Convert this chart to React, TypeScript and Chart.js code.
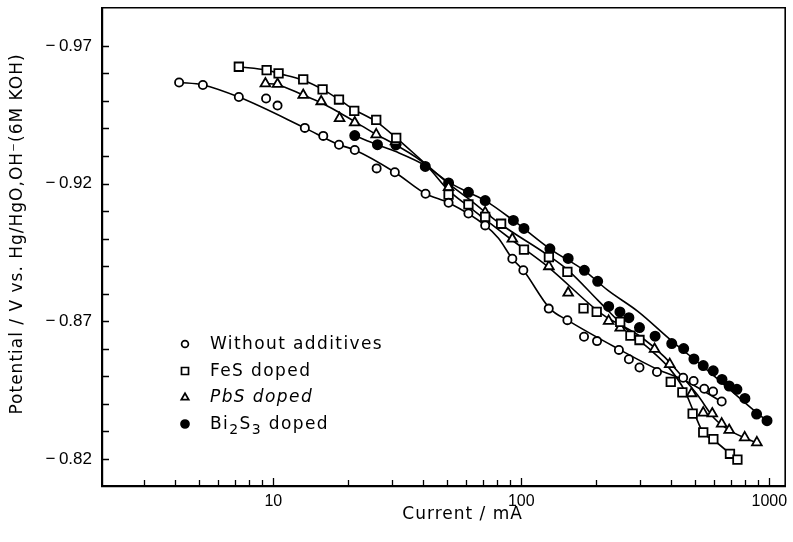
import React, { useEffect, useRef } from "react";
import { Chart, registerables } from "chart.js";

Chart.register(...registerables);

// ---- measured points (Current / mA, Potential / V) ----
const noAddX = [4.17, 5.2, 7.26, 9.35, 10.4, 13.4, 15.9, 18.4, 21.3, 26.1, 30.9, 41.1, 50.9, 61.2, 71.5, 92.0, 101.9, 129, 153.4, 179, 202, 247.5, 271.5, 299.6, 352.4, 449.4, 495.2, 546.6, 593.2, 642.7];
const noAddY = [-0.9567, -0.9558, -0.9514, -0.9509, -0.9483, -0.9402, -0.9373, -0.9341, -0.9322, -0.9255, -0.9241, -0.9163, -0.913, -0.9091, -0.9048, -0.8927, -0.8885, -0.8746, -0.8704, -0.8644, -0.8628, -0.8596, -0.8562, -0.8532, -0.8516, -0.8495, -0.8483, -0.8455, -0.8445, -0.8409];

const fesX = [7.26, 9.4, 10.5, 13.2, 15.8, 18.4, 21.2, 26.0, 31.3, 50.9, 61.2, 71.5, 82.9, 102.5, 129.2, 153.4, 178.2, 201.4, 250.5, 275.4, 299.6, 400.5, 446.1, 490.7, 541.5, 594.8, 694, 743.7];
const fesY = [-0.9624, -0.9612, -0.96, -0.9578, -0.9542, -0.9505, -0.9464, -0.9431, -0.9366, -0.916, -0.9124, -0.9079, -0.9054, -0.896, -0.8933, -0.8879, -0.8747, -0.8734, -0.8698, -0.8648, -0.8632, -0.848, -0.8442, -0.8365, -0.8297, -0.8272, -0.8219, -0.8198];

const pbsX = [9.29, 10.4, 13.2, 15.6, 18.5, 21.3, 26.0, 31.1, 50.9, 71.5, 92.0, 129.2, 154.5, 225, 250.5, 344.6, 396.8, 486.1, 541.5, 588.8, 642.7, 688.9, 795.8, 891];
const pbsY = [-0.9563, -0.9561, -0.9521, -0.9498, -0.9437, -0.9421, -0.9378, -0.9352, -0.9186, -0.9095, -0.8999, -0.8899, -0.8803, -0.8701, -0.8676, -0.8599, -0.8544, -0.8438, -0.8368, -0.8365, -0.8328, -0.8305, -0.8278, -0.826];

const biX = [21.3, 26.3, 31.2, 41.0, 50.9, 61.2, 71.5, 92.9, 102.5, 130.4, 154.5, 179.6, 203.2, 225, 249.8, 271.5, 299.6, 346.3, 404.2, 451.5, 496.6, 541.5, 594.2, 644.5, 688.9, 740.3, 797.3, 888.5, 979];
const biY = [-0.9374, -0.9341, -0.934, -0.9262, -0.9202, -0.9168, -0.9138, -0.9066, -0.9037, -0.8963, -0.8928, -0.8885, -0.8845, -0.8754, -0.8734, -0.8713, -0.8677, -0.8646, -0.8619, -0.8601, -0.8563, -0.8539, -0.852, -0.8489, -0.8465, -0.8453, -0.842, -0.8363, -0.8339];

// ---- fitted curves drawn through the points ----
const noAddFitX = [4.17, 5.2, 7.26, 13.4, 18.4, 21.3, 30.9, 41.1, 50.9, 71.5, 80.9, 92.0, 101.9, 130.4, 153.4, 249.1, 352.7, 454.4, 641.6];
const noAddFitY = [-0.9567, -0.9558, -0.9514, -0.9402, -0.9341, -0.9322, -0.9241, -0.9163, -0.913, -0.9048, -0.9001, -0.8927, -0.8885, -0.8746, -0.8704, -0.8597, -0.8526, -0.8486, -0.8408];

const fesFitX = [7.26, 9.4, 10.5, 13.2, 15.8, 18.4, 21.2, 26.0, 31.3, 41.1, 50.9, 61.2, 82.1, 128.4, 154.5, 203.8, 277.3, 338.9, 395.7, 454.4, 498.4, 541.5, 595.9, 743.7];
const fesFitY = [-0.9624, -0.9612, -0.96, -0.9575, -0.9542, -0.9505, -0.9468, -0.9425, -0.9366, -0.9272, -0.92, -0.9145, -0.9054, -0.8939, -0.8885, -0.8776, -0.8655, -0.8589, -0.8529, -0.845, -0.8366, -0.8295, -0.8269, -0.8196];

const pbsFitX = [9.29, 10.4, 13.2, 15.6, 18.5, 21.3, 26.0, 31.1, 41.1, 50.9, 61.2, 91.4, 128.4, 210.1, 304.1, 377.7, 440.4, 513.8, 599.7, 688.9, 895];
const pbsFitY = [-0.9563, -0.9559, -0.9521, -0.9493, -0.9457, -0.9425, -0.9378, -0.9341, -0.9269, -0.9175, -0.9117, -0.8996, -0.8897, -0.8728, -0.8643, -0.8571, -0.8504, -0.8432, -0.8348, -0.8305, -0.8257];

const biFitX = [21.3, 26.3, 31.2, 41.1, 50.9, 61.2, 71.5, 92.9, 130.4, 179, 223.6, 295, 401.6, 563.6, 895, 981.7];
const biFitY = [-0.9374, -0.9341, -0.9316, -0.9265, -0.9205, -0.9168, -0.9138, -0.9066, -0.8963, -0.8885, -0.8812, -0.8736, -0.8631, -0.8522, -0.8366, -0.8338];

// ---- axes ----
const xLabelTicks = [10, 100, 1000];
const xMinorTicks = [3, 4, 5, 6, 7, 8, 9, 20, 30, 40, 50, 60, 70, 80, 90, 200, 300, 400, 500, 600, 700, 800, 900];
const yLabelTicks = [-0.97, -0.92, -0.87, -0.82];
const yMinorTicks = [-0.96, -0.95, -0.94, -0.93, -0.91, -0.9, -0.89, -0.88, -0.86, -0.85, -0.84, -0.83];
const xMin = 2.038;
const xMax = 1159;
const yMin = -0.9838;
const yMax = -0.8102;

const seriesNames = ["Without additives", "FeS doped", "PbS doped", "Bi2S3 doped"];
const xTitle = "Current / mA";
const yTitle = "Potential / V vs. Hg/HgO,OH\u207B(6M KOH)";

const toPts = (xs: number[], ys: number[]) => xs.map((x, i) => ({ x, y: ys[i] }));

const TEXT_FONT = '"DejaVu Sans", sans-serif';
const TICK_FONT = '"Liberation Sans", Arial, sans-serif';

function drawMarker(ctx: CanvasRenderingContext2D, kind: string, x: number, y: number, s: number) {
  ctx.save();
  ctx.lineWidth = 1.7;
  ctx.strokeStyle = "#000";
  ctx.fillStyle = kind === "filled" ? "#000" : "#fff";
  ctx.beginPath();
  if (kind === "circle" || kind === "filled") {
    ctx.arc(x, y, s, 0, Math.PI * 2);
  } else if (kind === "rect") {
    ctx.rect(x - s, y - s, 2 * s, 2 * s);
  } else {
    ctx.moveTo(x, y - s * 1.1);
    ctx.lineTo(x + s * 1.1, y + s * 0.8);
    ctx.lineTo(x - s * 1.1, y + s * 0.8);
    ctx.closePath();
  }
  ctx.fill();
  ctx.stroke();
  ctx.restore();
}

const decorPlugin = {
  id: "decor",
  beforeDatasetsDraw(chart: any) {
    const ctx: CanvasRenderingContext2D = chart.ctx;
    const { left, right, top, bottom } = chart.chartArea;
    const xs = chart.scales.x;
    const ys = chart.scales.y;
    ctx.save();
    ctx.strokeStyle = "#000";
    // frame (top & right)
    ctx.lineWidth = 1.6;
    ctx.beginPath();
    ctx.moveTo(left, top);
    ctx.lineTo(right, top);
    ctx.lineTo(right, bottom);
    ctx.stroke();
    // inward ticks
    ctx.lineWidth = 1.3;
    ctx.beginPath();
    xMinorTicks.forEach((v) => {
      const px = Math.round(xs.getPixelForValue(v)) + 0.5;
      ctx.moveTo(px, bottom);
      ctx.lineTo(px, bottom - 6);
    });
    xLabelTicks.forEach((v) => {
      const px = Math.round(xs.getPixelForValue(v)) + 0.5;
      ctx.moveTo(px, bottom);
      ctx.lineTo(px, bottom - 8);
    });
    [...yMinorTicks, ...yLabelTicks].forEach((v) => {
      const py = Math.round(ys.getPixelForValue(v)) + 0.5;
      ctx.moveTo(left, py);
      ctx.lineTo(left + 7, py);
    });
    ctx.stroke();
    ctx.restore();
  },
  afterDraw(chart: any) {
    const ctx: any = chart.ctx;
    const { left, right } = chart.chartArea;
    ctx.save();
    ctx.fillStyle = "#000";
    ctx.letterSpacing = "1px";
    ctx.font = `17px ${TEXT_FONT}`;
    ctx.textBaseline = "middle";
    // x title
    ctx.textAlign = "center";
    ctx.fillText(xTitle, (left + right) / 2 + 19, 515);
    // y title
    ctx.save();
    ctx.translate(18, 234);
    ctx.rotate(-Math.PI / 2);
    ctx.fillText(yTitle, 0, 0);
    ctx.restore();

    // legend
    const kinds = ["circle", "rect", "triangle", "filled"];
    const sizes = [3.4, 3.5, 3.4, 4];
    const rows = [345, 372, 398, 425];
    const mx = 185;
    const tx = 210;
    ctx.letterSpacing = "1.4px";
    ctx.textAlign = "left";
    kinds.forEach((k, i) => {
      drawMarker(ctx, k, mx, rows[i] - 1, sizes[i]);
    });
    ctx.font = `17px ${TEXT_FONT}`;
    ctx.fillText(seriesNames[0], tx, rows[0]);
    ctx.fillText(seriesNames[1], tx, rows[1]);
    ctx.font = `oblique 17px ${TEXT_FONT}`;
    ctx.fillText(seriesNames[2], tx, rows[2]);
    // Bi2S3 doped with subscripts
    let cx = tx;
    const y4 = rows[3];
    const part = (t: string, sub: boolean) => {
      ctx.font = sub ? `14px ${TEXT_FONT}` : `17px ${TEXT_FONT}`;
      ctx.fillText(t, cx, sub ? y4 + 5 : y4);
      cx += ctx.measureText(t).width;
    };
    part("Bi", false);
    part("2", true);
    part("S", false);
    part("3", true);
    part(" doped", false);
    ctx.restore();
  },
};

export default function App() {
  const ref = useRef<HTMLCanvasElement | null>(null);

  useEffect(() => {
    if (!ref.current) return;
    const pointBase = {
      showLine: false,
      borderColor: "#000",
      borderWidth: 1.8,
      pointBorderColor: "#000",
      pointBorderWidth: 1.8,
      pointHoverRadius: 0,
      order: 0,
    };
    const lineBase = {
      showLine: true,
      borderColor: "#000",
      borderWidth: 1.6,
      pointRadius: 0,
      pointHoverRadius: 0,
      fill: false,
      cubicInterpolationMode: "monotone" as const,
      order: 1,
    };
    const chart = new Chart(ref.current, {
      type: "scatter",
      data: {
        datasets: [
          { ...pointBase, label: seriesNames[0], data: toPts(noAddX, noAddY), pointStyle: "circle", pointRadius: 4.1, pointBackgroundColor: "#fff" },
          { ...pointBase, label: seriesNames[1], data: toPts(fesX, fesY), pointStyle: "rect", pointRadius: 6, pointBackgroundColor: "#fff" },
          { ...pointBase, label: seriesNames[2], data: toPts(pbsX, pbsY), pointStyle: "triangle", pointRadius: 5.6, pointBackgroundColor: "#fff" },
          { ...pointBase, label: seriesNames[3], data: toPts(biX, biY), pointStyle: "circle", pointRadius: 4.6, pointBackgroundColor: "#000" },
          { ...lineBase, label: "fit0", data: toPts(noAddFitX, noAddFitY) },
          { ...lineBase, label: "fit1", data: toPts(fesFitX, fesFitY) },
          { ...lineBase, label: "fit2", data: toPts(pbsFitX, pbsFitY) },
          { ...lineBase, label: "fit3", data: toPts(biFitX, biFitY) },
        ] as any,
      },
      options: {
        responsive: false,
        animation: false,
        events: [],
        layout: { padding: { left: 0, top: 7, right: 5, bottom: 0 } },
        plugins: {
          legend: { display: false },
          tooltip: { enabled: false },
        },
        scales: {
          x: {
            type: "logarithmic",
            min: xMin,
            max: xMax,
            grid: { display: false, drawTicks: false },
            border: { display: true, color: "#000", width: 2.2 },
            afterBuildTicks: (scale: any) => {
              scale.ticks = xLabelTicks.map((v) => ({ value: v, major: true }));
            },
            afterFit: (scale: any) => {
              scale.height = 56;
              scale.paddingLeft = 0;
              scale.paddingRight = 0;
            },
            ticks: {
              color: "#000",
              padding: 6,
              maxRotation: 0,
              autoSkip: false,
              font: { family: TICK_FONT, size: 16 },
              callback: (v: any) => String(v),
            },
          },
          y: {
            type: "linear",
            reverse: true,
            min: yMin,
            max: yMax,
            grid: { display: false, drawTicks: false },
            border: { display: true, color: "#000", width: 2.2 },
            afterBuildTicks: (scale: any) => {
              scale.ticks = yLabelTicks.map((v) => ({ value: v }));
            },
            afterFit: (scale: any) => {
              scale.width = 102;
              scale.paddingTop = 0;
              scale.paddingBottom = 0;
            },
            ticks: {
              color: "#000",
              padding: 10,
              autoSkip: false,
              font: { family: TICK_FONT, size: 17 },
              callback: (v: any) => "\u2212\u2009" + Math.abs(Number(v)).toFixed(2),
            },
          },
        },
      },
      plugins: [decorPlugin],
    });
    return () => chart.destroy();
  }, []);

  return (
    <div style={{ position: "fixed", left: 0, top: 0, width: 793, height: 542, background: "#fff" }}>
      <canvas ref={ref} width={793} height={542} style={{ display: "block" }} />
    </div>
  );
}
